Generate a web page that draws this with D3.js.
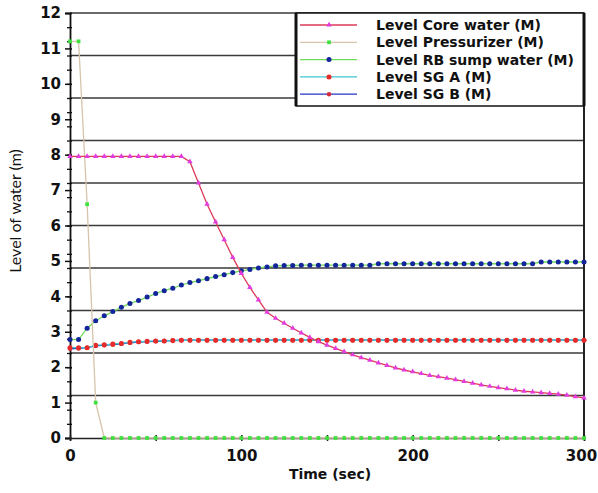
<!DOCTYPE html>
<html>
<head>
<meta charset="utf-8">
<script src="https://cdn.jsdelivr.net/npm/d3@7"></script>
<style>
  body { margin: 0; background: #fff; }
</style>
</head>
<body>
<div id="canvas"></div>
<script>
// time (sec), one sample every 5 s
const times = [0, 5, 10, 15, 20, 25, 30, 35, 40, 45, 50, 55, 60, 65, 70, 75, 80, 85, 90, 95,
  100, 105, 110, 115, 120, 125, 130, 135, 140, 145, 150, 155, 160, 165, 170, 175, 180, 185, 190, 195,
  200, 205, 210, 215, 220, 225, 230, 235, 240, 245, 250, 255, 260, 265, 270, 275, 280, 285, 290, 295, 300]

const coreWater = [7.95, 7.95, 7.95, 7.95, 7.95, 7.95, 7.95, 7.95, 7.95, 7.95, 7.95, 7.95, 7.95, 7.95,
  7.8, 7.2, 6.6, 6.1, 5.6, 5.1, 4.65, 4.25, 3.9, 3.55,
  3.38, 3.24, 3.1, 2.97, 2.84, 2.72, 2.62, 2.53, 2.44, 2.35, 2.27, 2.2, 2.12, 2.05, 1.98, 1.92,
  1.87, 1.82, 1.77, 1.73, 1.69, 1.65, 1.6, 1.55, 1.5, 1.46, 1.42, 1.39, 1.35, 1.32, 1.3, 1.28,
  1.26, 1.24, 1.21, 1.17, 1.13]

const pressurizer = [11.2, 11.2, 6.6, 1.0, 0, 0, 0, 0, 0, 0, 0, 0, 0, 0, 0, 0, 0, 0, 0, 0,
  0, 0, 0, 0, 0, 0, 0, 0, 0, 0, 0, 0, 0, 0, 0, 0, 0, 0, 0, 0,
  0, 0, 0, 0, 0, 0, 0, 0, 0, 0, 0, 0, 0, 0, 0, 0, 0, 0, 0, 0, 0]

const rbSump = [2.78, 2.78, 3.1, 3.31, 3.45, 3.57, 3.69, 3.8, 3.88, 3.98, 4.08, 4.16, 4.23, 4.32,
  4.39, 4.44, 4.5, 4.56, 4.61, 4.67, 4.72, 4.76, 4.8, 4.83, 4.86, 4.87, 4.87,
  4.88, 4.88, 4.88, 4.88, 4.88, 4.88, 4.88, 4.88, 4.88,
  4.92, 4.92, 4.92, 4.92, 4.92, 4.92, 4.92, 4.92, 4.92, 4.92, 4.92, 4.92, 4.92, 4.92, 4.92, 4.92,
  4.92, 4.92, 4.92, 4.97, 4.97, 4.97, 4.97, 4.97, 4.97]

const sgA = [2.55, 2.55, 2.55, 2.62, 2.63, 2.65, 2.67, 2.7, 2.72, 2.73, 2.74, 2.74, 2.75,
  2.76, 2.76, 2.76, 2.76, 2.76, 2.76, 2.76, 2.76, 2.76, 2.76, 2.76, 2.76, 2.76, 2.76, 2.76,
  2.76, 2.76, 2.76, 2.76, 2.76, 2.76, 2.76, 2.76, 2.76, 2.76, 2.76, 2.76, 2.76, 2.76, 2.76,
  2.76, 2.76, 2.76, 2.76, 2.76, 2.76, 2.76, 2.76, 2.76, 2.76, 2.76, 2.76, 2.76, 2.76, 2.76,
  2.76, 2.76, 2.76]

const sgB = [2.52, 2.53, 2.55, 2.6, 2.62, 2.64, 2.66, 2.69, 2.71, 2.72, 2.73, 2.74, 2.75,
  2.76, 2.76, 2.76, 2.76, 2.76, 2.76, 2.76, 2.76, 2.76, 2.76, 2.76, 2.76, 2.76, 2.76, 2.76,
  2.76, 2.76, 2.76, 2.76, 2.76, 2.76, 2.76, 2.76, 2.76, 2.76, 2.76, 2.76, 2.76, 2.76, 2.76,
  2.76, 2.76, 2.76, 2.76, 2.76, 2.76, 2.76, 2.76, 2.76, 2.76, 2.76, 2.76, 2.76, 2.76, 2.76,
  2.76, 2.76, 2.76]

const seriesNames = ['Level Core water (M)', 'Level Pressurizer (M)', 'Level RB sump water (M)',
  'Level SG A (M)', 'Level SG B (M)']
const yTickLabels = [0, 1, 2, 3, 4, 5, 6, 7, 8, 9, 10, 11, 12]
const yMinorTicks = [0.4, 0.8, 1.2, 1.6, 2, 2.4, 2.8, 3.2, 3.6, 4, 4.4, 4.8, 5.2, 5.6, 6, 6.4, 6.8,
  7.2, 7.6, 8, 8.4, 8.8, 9.2, 9.6, 10, 10.4, 10.8, 11.2, 11.6]
const gridValues = [1.2, 2.4, 3.6, 4.8, 6, 7.2, 8.4, 9.6, 10.8, 12]
const xTicks = [0, 50, 100, 150, 200, 250, 300]

const width = 598
const height = 493
const margin = { top: 13, left: 70, bottom: 55, right: 14 }
const iwidth = width - margin.left - margin.right
const iheight = height - margin.top - margin.bottom
const boldFont = '"DejaVu Sans", Verdana, sans-serif'

const svg = d3.select('#canvas').append('svg')
  .attr('width', width)
  .attr('height', height)
  .style('font-family', boldFont)

const g = svg.append('g').attr('transform', `translate(${margin.left},${margin.top})`)

const x = d3.scaleLinear().domain([0, 300]).range([0, iwidth])
const y = d3.scaleLinear().domain([0, 12]).range([iheight, 0])

// gridlines (every 1.2 m)
g.selectAll('.grid').data(gridValues).enter().append('line')
  .attr('x1', 0).attr('x2', iwidth)
  .attr('y1', (d) => y(d)).attr('y2', (d) => y(d))
  .attr('stroke', '#3a3a3a').attr('stroke-width', 1.6)

// right border
g.append('line')
  .attr('x1', iwidth).attr('x2', iwidth)
  .attr('y1', 0).attr('y2', iheight)
  .attr('stroke', '#222').attr('stroke-width', 2)

// y minor ticks
g.append('g')
  .call(d3.axisLeft(y).tickValues(yMinorTicks).tickSize(3).tickFormat(''))
  .call((a) => a.select('.domain').remove())
  .call((a) => a.selectAll('line').attr('x2', -3).attr('x1', 2).attr('stroke', '#111').attr('stroke-width', 1.3))

// y axis
const yAxis = g.append('g')
  .call(d3.axisLeft(y).tickValues(yTickLabels).tickSize(5).tickPadding(4).tickFormat(d3.format('d')))
yAxis.select('.domain').attr('stroke', '#111').attr('stroke-width', 1.8)
yAxis.selectAll('.tick line').attr('x1', 2).attr('stroke', '#111').attr('stroke-width', 1.5)
yAxis.selectAll('text')
  .style('font-size', '15px').style('font-weight', 'bold').attr('fill', '#111')
  .attr('font-family', boldFont)

// x axis along the zero line
const xAxis = g.append('g')
  .attr('transform', `translate(0,${iheight})`)
  .call(d3.axisBottom(x).tickValues(xTicks).tickSize(3).tickPadding(9)
    .tickFormat((d) => (d % 100 === 0 ? d : '')))
xAxis.select('.domain').attr('stroke', '#222').attr('stroke-width', 1.5)
xAxis.selectAll('.tick line').attr('y1', -3).attr('stroke', '#222').attr('stroke-width', 1.5)
xAxis.selectAll('text')
  .style('font-size', '15px').style('font-weight', 'bold').attr('fill', '#111')
  .attr('font-family', boldFont)
  .attr('dx', (d) => (d === 300 ? -3 : 0))

// axis titles
svg.append('text')
  .attr('x', margin.left + iwidth / 2 + 3)
  .attr('y', 479)
  .attr('text-anchor', 'middle')
  .style('font-size', '14px').style('font-weight', 'bold')
  .attr('fill', '#111')
  .text('Time (sec)')

svg.append('text')
  .attr('transform', 'rotate(-90)')
  .attr('x', -211)
  .attr('y', 21)
  .attr('text-anchor', 'middle')
  .style('font-size', '16px')
  .style('font-family', 'Lato, "Open Sans", sans-serif')
  .attr('fill', '#111')
  .text('Level of water (m)')

// series: name, values, line colour, marker colour, marker shape, size
const series = [
  { name: seriesNames[0], values: coreWater, line: '#dc3a58', mark: '#e23ce0', shape: d3.symbolTriangle, size: 13 },
  { name: seriesNames[1], values: pressurizer, line: '#d6c4ab', mark: '#3ee03e', shape: d3.symbolSquare, size: 14 },
  { name: seriesNames[2], values: rbSump, line: '#6fdc5a', mark: '#14249a', shape: d3.symbolCircle, size: 20 },
  { name: seriesNames[3], values: sgA, line: '#40c6d2', mark: '#e62a2a', shape: d3.symbolCircle, size: 20 },
  { name: seriesNames[4], values: sgB, line: '#2434c4', mark: '#d42a3a', shape: d3.symbolCircle, size: 16 },
]

const line = d3.line()
  .x((d) => x(d[0]))
  .y((d) => y(d[1]))

// draw in reverse so core water ends up on top
series.slice().reverse().forEach((s) => {
  const pts = times.map((t, i) => [t, s.values[i]])
  g.append('path')
    .datum(pts)
    .attr('d', line)
    .attr('fill', 'none')
    .attr('stroke', s.line)
    .attr('stroke-width', 1.3)
  g.selectAll(null).data(pts).enter().append('path')
    .attr('transform', (d) => `translate(${x(d[0])},${y(d[1])})`)
    .attr('d', d3.symbol().type(s.shape).size(s.size))
    .attr('fill', s.mark)
})

// legend box
const legend = svg.append('g').attr('transform', 'translate(296,13)')
legend.append('rect')
  .attr('x', 0).attr('y', 0)
  .attr('width', 288).attr('height', 93)
  .attr('fill', '#fff')
  .attr('stroke', '#111').attr('stroke-width', 1.5)
legend.append('line')
  .attr('x1', 0).attr('x2', 0).attr('y1', 0).attr('y2', 93)
  .attr('stroke', '#111').attr('stroke-width', 3)
legend.append('line')
  .attr('x1', 288).attr('x2', 288).attr('y1', 0).attr('y2', 93)
  .attr('stroke', '#111').attr('stroke-width', 3)

series.forEach((s, i) => {
  const ry = 12 + i * 17.3
  legend.append('line')
    .attr('x1', 4).attr('x2', 61)
    .attr('y1', ry).attr('y2', ry)
    .attr('stroke', s.line).attr('stroke-width', 1.3)
  legend.append('path')
    .attr('transform', `translate(33,${ry})`)
    .attr('d', d3.symbol().type(s.shape).size(s.size))
    .attr('fill', s.mark)
  legend.append('text')
    .attr('x', 80)
    .attr('y', ry + 5)
    .style('font-size', '14px').style('font-weight', 'bold')
    .attr('fill', '#111')
    .text(s.name)
})
</script>
</body>
</html>
